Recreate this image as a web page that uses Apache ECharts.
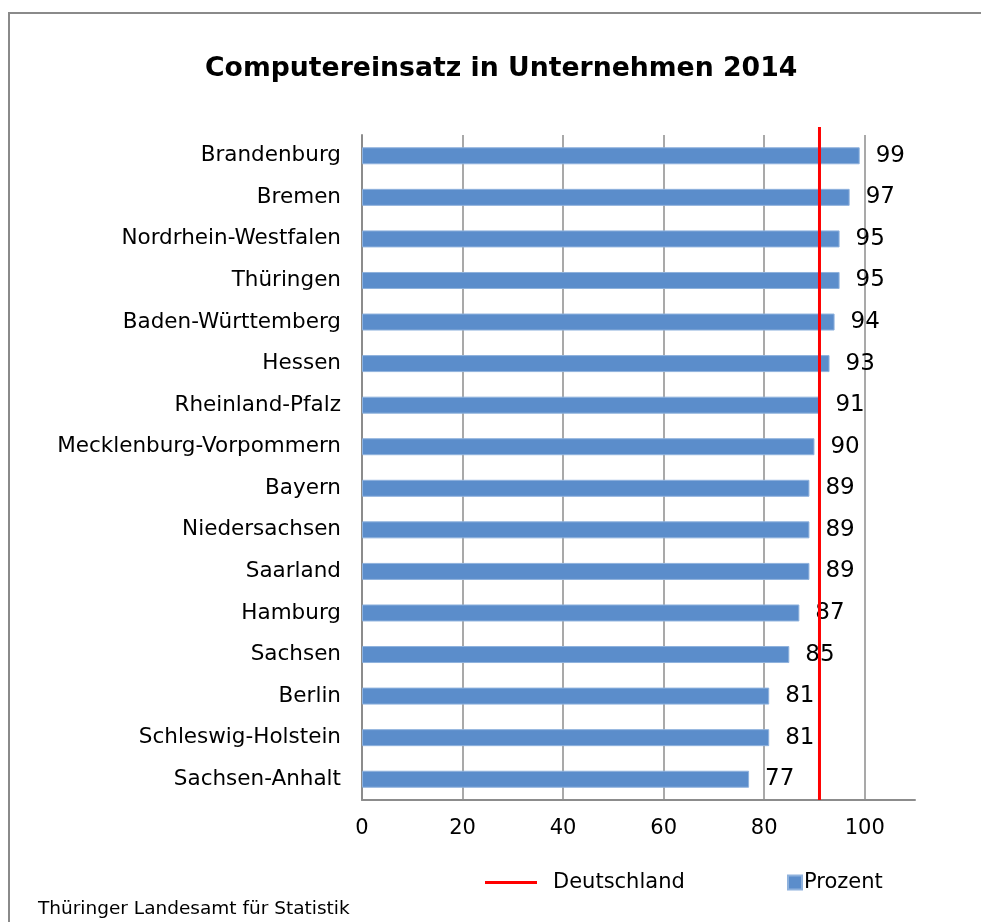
<!DOCTYPE html>
<html>
<head>
<meta charset="utf-8">
<script src="https://cdn.jsdelivr.net/npm/echarts@6/dist/echarts.min.js"></script>
<style>
html,body{margin:0;padding:0;background:#fff;}
#frame{position:absolute;left:8px;top:12px;width:1000px;height:1000px;border-left:2px solid #8a8a8a;border-top:2px solid #8a8a8a;}
#chart{position:absolute;left:0;top:0;width:981px;height:922px;}
</style>
</head>
<body>
<div id="frame"></div>
<div id="chart"></div>
<script>
const categories = ['Brandenburg','Bremen','Nordrhein-Westfalen','Thüringen','Baden-Württemberg','Hessen','Rheinland-Pfalz','Mecklenburg-Vorpommern','Bayern','Niedersachsen','Saarland','Hamburg','Sachsen','Berlin','Schleswig-Holstein','Sachsen-Anhalt'];
const prozent = [99,97,95,95,94,93,91,90,89,89,89,87,85,81,81,77];
const deutschland = 91;
const xTicks = [0,20,40,60,80,100];

const FONT = '"DejaVu Sans", "Liberation Sans", Arial, sans-serif';
const chart = echarts.init(document.getElementById('chart'), null, {renderer:'canvas'});
chart.setOption({
  backgroundColor: 'transparent',
  animation: false,
  title: [
    {text:'Computereinsatz in Unternehmen 2014', left:200, top:51,
     textStyle:{fontFamily:FONT, fontSize:26.7, fontWeight:'bold', color:'#000'}},
    {text:'Thüringer Landesamt für Statistik', left:33, top:895,
     textStyle:{fontFamily:FONT, fontSize:18.5, fontWeight:'normal', color:'#000'}}
  ],
  legend: [
    {data:[{name:'Deutschland', icon:'rect'}], left:480, top:867, itemWidth:52, itemHeight:3, itemGap:0,
     textStyle:{fontFamily:FONT, fontSize:21, color:'#000', padding:[0,0,0,11]}},
    {data:[{name:'Prozent', icon:'rect'}], left:782, top:867, itemWidth:14, itemHeight:14, itemGap:0,
     textStyle:{fontFamily:FONT, fontSize:21, color:'#000', padding:[0,0,0,-3]}}
  ],
  grid: {left:362, right:66, top:135, bottom:122, containLabel:false},
  xAxis: {
    type:'value', min:0, max:110, interval:20,
    axisLine:{show:true, lineStyle:{color:'#8c8c8c', width:2}},
    axisTick:{show:false},
    axisLabel:{fontFamily:FONT, fontSize:21, color:'#000', margin:18,
      formatter: v => xTicks.indexOf(v) >= 0 ? String(v) : ''},
    splitLine:{show:true, lineStyle:{color:['#8c8c8c','#8c8c8c','#8c8c8c','#8c8c8c','#8c8c8c','#8c8c8c','rgba(0,0,0,0)'], width:1.5}}
  },
  yAxis: [
    {type:'category', data:categories, inverse:true,
     axisLine:{show:true, lineStyle:{color:'#8c8c8c', width:2}},
     axisTick:{show:false},
     axisLabel:{fontFamily:FONT, fontSize:21.5, color:'#000', margin:21},
     splitLine:{show:false}},
    {type:'value', min:0, max:1, show:false}
  ],
  series: [
    {name:'Prozent', type:'bar', data:prozent, barWidth:17, yAxisIndex:0,
     itemStyle:{color:'#5B8DCB', borderColor:'#8fb2dd', borderWidth:1},
     label:{show:true, position:'right', distance:16, fontFamily:FONT, fontSize:23, color:'#000'}},
    {name:'Deutschland', type:'line', yAxisIndex:1, clip:false, symbol:'none',
     data:[[deutschland,0],[deutschland,1.012]],
     lineStyle:{color:'#ff0000', width:3}, itemStyle:{color:'#ff0000'}, z:5}
  ]
});
</script>
</body>
</html>
